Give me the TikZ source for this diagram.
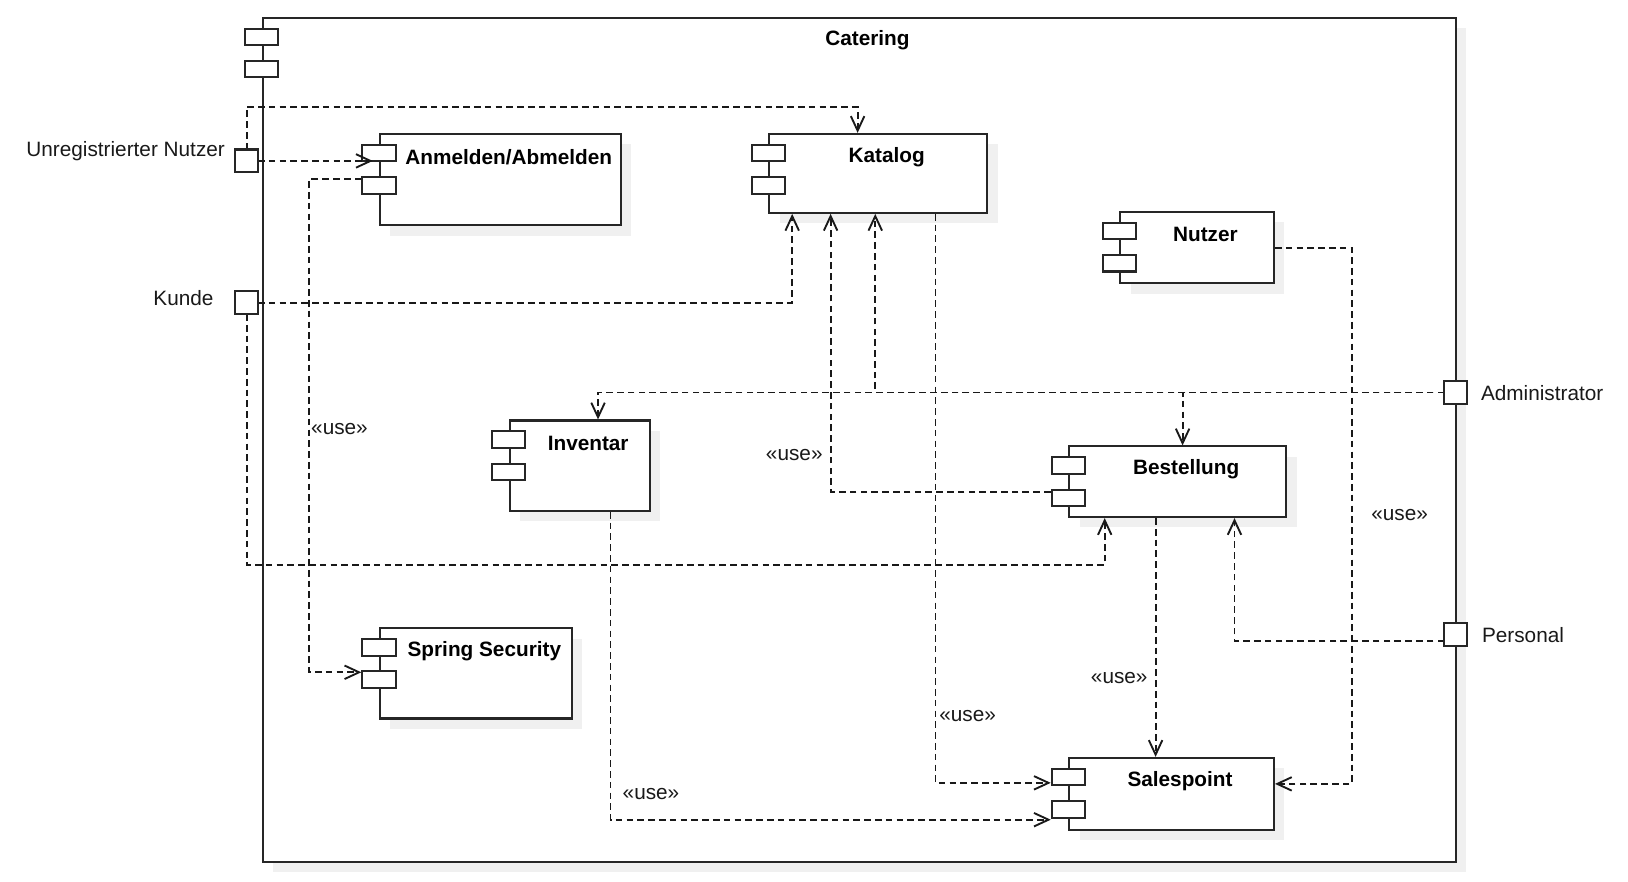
\documentclass[tikz,border=0pt]{standalone}
\usepackage{fontspec}
\setmainfont{Liberation Sans}
\usetikzlibrary{arrows.meta, positioning, shadows}

\tikzset{
  comp/.style={draw=black!85, line width=1pt, fill=white, inner sep=0pt,
    general shadow={fill=black!6, shadow xshift=5pt, shadow yshift=-5pt}},
  icon/.style={draw=black!85, line width=1pt, fill=white, inner sep=0pt,
    minimum width=16pt, minimum height=8pt},
  port/.style={draw=black!85, line width=1pt, fill=white, inner sep=0pt,
    minimum size=11pt},
  ctitle/.style={font=\fontsize{10}{12}\selectfont\bfseries, inner sep=0pt},
  lbl/.style={font=\fontsize{10}{12}\selectfont, text=black!90, inner sep=0pt},
  dep/.style={draw=black!90, line width=0.9pt, dash pattern=on 3.2pt off 2pt,
    -{Straight Barb[length=7pt,width=6.5pt]}}
}

\begin{document}
\begin{tikzpicture}[x=0.5pt,y=-0.5pt]
\useasboundingbox (0,0) rectangle (1568,849);

% outer component
\node[comp, minimum width=574.5pt, minimum height=406.5pt] (cat) at (827.5,423.5) {};
\node[ctitle] (tcat) at ([xshift=4pt,yshift=-11.5pt]cat.north) {Catering};

% inner components
\node[comp, minimum width=116pt, minimum height=44pt] (anm) at (482,173) {};
\node[comp, minimum width=105pt, minimum height=38pt] (kat) at (846,167) {};
\node[comp, minimum width=74pt, minimum height=34.5pt] (nut) at (1153,238.5) {};
\node[comp, minimum width=67.5pt, minimum height=43.5pt] (inv) at (558.5,448.5) {};
\node[comp, minimum width=104.5pt, minimum height=34pt] (bes) at (1134.5,464) {};
\node[comp, minimum width=92.5pt, minimum height=43.5pt] (spr) at (458.5,648.5) {};
\node[comp, minimum width=98.5pt, minimum height=34.5pt] (sal) at (1128.5,764.5) {};

\foreach \c in {cat,anm,kat,nut,inv,bes,spr,sal} {
  \node[icon] (\c1) at ([yshift=-9.75pt]\c.north west) {};
  \node[icon] (\c2) at ([yshift=-25.25pt]\c.north west) {};
}

\node[ctitle] (tanm) at ([xshift=4pt,yshift=-11.5pt]anm.north) {Anmelden/Abmelden};
\node[ctitle] (tkat) at ([xshift=4pt,yshift=-11.5pt]kat.north) {Katalog};
\node[ctitle] (tnut) at ([xshift=4pt,yshift=-11.5pt]nut.north) {Nutzer};
\node[ctitle] (tinv) at ([xshift=4pt,yshift=-11.5pt]inv.north) {Inventar};
\node[ctitle] (tbes) at ([xshift=4pt,yshift=-11.5pt]bes.north) {Bestellung};
\node[ctitle] (tspr) at ([xshift=4pt,yshift=-11.5pt]spr.north) {Spring Security};
\node[ctitle] (tsal) at ([xshift=4pt,yshift=-11.5pt]sal.north) {Salespoint};

% ports
\coordinate (unregp) at (237.5,155);
\coordinate (kundep) at (237.5,291.5);
\coordinate (adminp) at (1402,378);
\coordinate (persp) at (1402,611);

% dependencies
\draw[dep] (unregp) ++(0,-11) |- ([xshift=-10pt,yshift=12.5pt]kat.north) -- ([xshift=-10pt]kat.north);
\draw[dep] ([xshift=5.5pt]unregp) -- ([xshift=5.5pt]unregp -| anm1.west);
\draw[dep] ([yshift=3pt]anm2.west) -- ++(-50,0) |- ([yshift=3.5pt]spr2.west);
\draw[dep] ([xshift=5.5pt]kundep) -| ([xshift=-41.5pt]kat.south);
\draw[dep] ([yshift=-5.5pt]kundep) |- ([xshift=-35.25pt,yshift=-22.5pt]bes.south) -- ([xshift=-35.25pt]bes.south);
\draw[dep] ([yshift=3pt]bes2.west) -| ([xshift=-23pt]kat.south);
\draw[dep] ([xshift=-5.5pt]adminp) -| ([xshift=8.75pt]inv.north);
\draw[dep] ([xshift=-5.5pt]adminp) -| ([xshift=-1.5pt]kat.south);
\draw[dep] ([xshift=-5.5pt]adminp) -| ([xshift=2.25pt]bes.north);
\draw[dep] ([xshift=27.5pt]kat.south) |- ([yshift=-2.75pt]sal1.west);
\draw[dep] ([xshift=14.75pt]inv.south) |- ([yshift=-5pt]sal2.west);
\draw[dep] ([xshift=-10.75pt]bes.south) -- ([xshift=-10.75pt]bes.south |- sal.north);
\draw[dep] ([xshift=-5.5pt,yshift=-3pt]persp) -| ([xshift=27.25pt]bes.south);
\draw[dep] (nut.east) -- ++(74,0) |- ([yshift=4.75pt]sal.east);

% port boxes on top
\node[port] (unreg) at (unregp) {};
\node[port] (kunde) at (kundep) {};
\node[port] (admin) at (adminp) {};
\node[port] (pers) at (persp) {};

\node[lbl, anchor=east] (lunreg) at (217,146) {Unregistrierter Nutzer};
\node[lbl, anchor=east] (lkunde) at (206,287) {Kunde};
\node[lbl, anchor=west] (ladmin) at (1426,379) {Administrator};
\node[lbl, anchor=west] (lpers) at (1427,612) {Personal};

% use labels
\node[lbl] (u1) at (327,413) {«use»};
\node[lbl] (u2) at (765,438) {«use»};
\node[lbl] (u3) at (932,690) {«use»};
\node[lbl] (u4) at (627,765) {«use»};
\node[lbl] (u5) at (1078,653) {«use»};
\node[lbl] (u6) at (1348,496) {«use»};
\end{tikzpicture}
\end{document}
